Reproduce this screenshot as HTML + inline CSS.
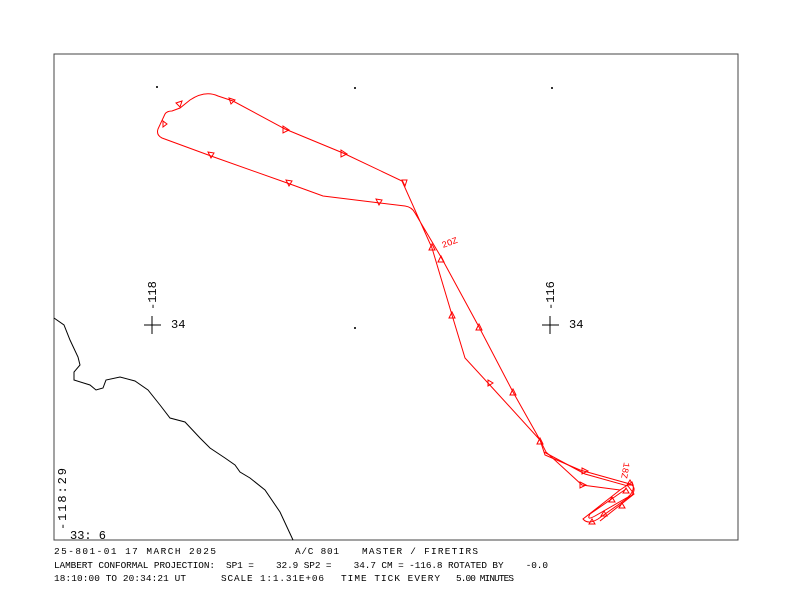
<!DOCTYPE html>
<html><head><style>body{margin:0;background:#fff}svg{display:block}</style></head>
<body>
<svg width="792" height="612" xmlns="http://www.w3.org/2000/svg" font-family="Liberation Mono, monospace">
<rect x="54" y="54" width="684" height="486" fill="none" stroke="#444" stroke-width="1"/>
<g fill="#333"><rect x="156" y="86" width="2" height="2"/><rect x="354" y="87" width="2" height="2"/><rect x="551" y="87" width="2" height="2"/><rect x="354" y="327" width="2" height="2"/></g>
<g stroke="#000" stroke-width="1"><line x1="144" y1="325" x2="161" y2="325"/><line x1="152" y1="316" x2="152" y2="334"/><line x1="542" y1="325" x2="559" y2="325"/><line x1="550" y1="316" x2="550" y2="334"/></g>
<g font-size="12" fill="#000">
<text x="171" y="328">34</text><text x="569" y="328">34</text>
<text transform="translate(156,310) rotate(-90)">-118</text>
<text transform="translate(554,310) rotate(-90)">-116</text>
<text transform="translate(66,530) rotate(-90)" textLength="62">-118:29</text>
<text x="70" y="539">33: 6</text>
</g>
<polyline fill="none" stroke="#000" stroke-width="1" points="54,318 64,325 70,340 78,357 80,365 74,372 74,380 90,385 96,390 103,388 106,380 120,377 135,381 148,390 160,405 170,418 185,422 200,438 210,448 225,458 235,465 240,472 250,478 265,490 280,512 293,540"/>
<g fill="none" stroke="#f00" stroke-width="1">
<path d="M540,440 L513,392 L479,327 L441,257 L415,213 Q412,207 405,206 L380,203 L323,196 L290,184 L211,156 L162,138 Q156,135 158,129 L165,114 Q167,111 172,111 L180,108 L190,100 Q205,90 218,96 L233,101 L285,129 L343,153 L402,181 L432,248 L452,315 L465,358 L488,383 L540,440 L546,452 L582,485 L620,490"/>
<path d="M540,440 L545,455 L580,470 L630,484 Q637,487 632,495 L598,519 Q588,525 583,519 L620,490 L632,482 Q636,490 628,497 L595,516 Q586,521 590,514 L626,489"/>
<path d="M544,452 L585,474 L628,486 L634,494 L600,521"/>
</g>
<g fill="none" stroke="#f00" stroke-width="1">
<path d="M229,98 l6,2 l-4,4z"/><path d="M283,126 l6,4 l-6,3z"/><path d="M341,150 l6,4 l-6,3z"/><path d="M214,153 l-6,-1 l3,6z"/><path d="M292,181 l-6,-1 l3,6z"/><path d="M382,200 l-6,-1 l3,6z"/>
<path d="M182,101 l-6,2 l4,4z"/><path d="M163,121 l0,6 l4,-3z"/><path d="M402,180 l3,6 l2,-6z"/>
<path d="M432,244 l-3,6 l6,0z"/><path d="M441,256 l-3,6 l6,0z"/><path d="M452,312 l-3,6 l6,0z"/><path d="M479,324 l-3,6 l6,0z"/><path d="M488,380 l0,6 l5,-3z"/><path d="M513,389 l-3,6 l6,0z"/><path d="M540,438 l-3,6 l6,0z"/><path d="M582,468 l6,3 l-6,3z"/><path d="M580,482 l6,3 l-6,3z"/><path d="M612,497 l-3,5 l6,0z"/><path d="M604,511 l-3,5 l6,0z"/><path d="M592,519 l-3,5 l6,0z"/><path d="M622,503 l-3,5 l6,0z"/><path d="M626,488 l-3,5 l6,0z"/><path d="M630,480 l-3,5 l6,0z"/>
</g>
<g font-size="9" fill="#f00">
<text transform="translate(443,248) rotate(-20)">2OZ</text>
<text transform="translate(624,462) rotate(100)">18Z</text>
</g>
<g font-size="9.4" fill="#000">
<text x="54" y="554" textLength="162">25-801-01  17 MARCH 2025</text>
<text x="295" y="554" textLength="44">A/C 801</text>
<text x="362" y="554" textLength="116">MASTER / FIRETIRS</text>
<text x="54" y="568" textLength="494" xml:space="preserve">LAMBERT CONFORMAL PROJECTION:  SP1 =    32.9 SP2 =    34.7 CM = -116.8 ROTATED BY    -0.0</text>
<text x="54" y="581" textLength="132">18:10:00 TO 20:34:21 UT</text>
<text x="221" y="581" textLength="103">SCALE 1:1.31E+06</text>
<text x="341" y="581" textLength="99">TIME TICK EVERY</text>
<text x="456" y="581" textLength="58">5.00 MINUTES</text>
</g>
</svg>
</body></html>
